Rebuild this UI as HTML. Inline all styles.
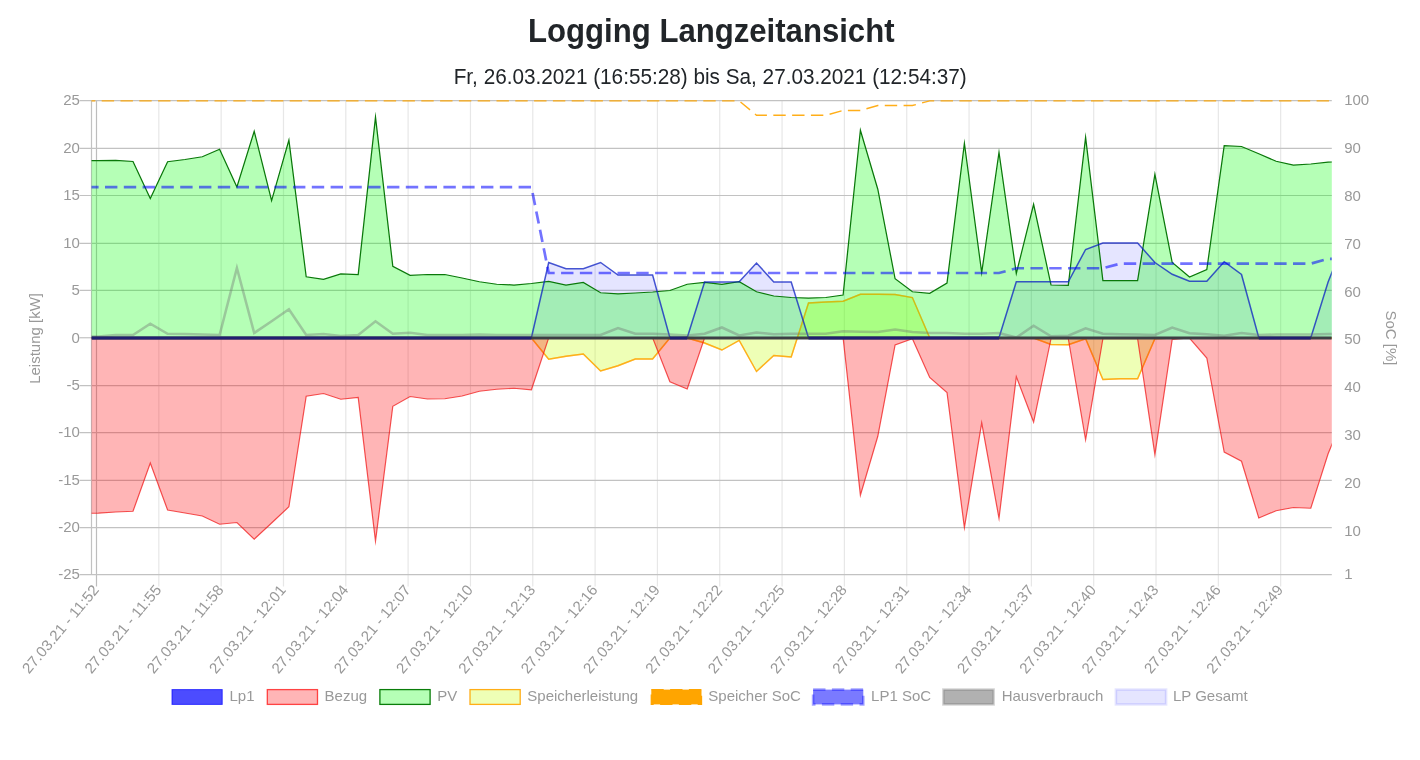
<!DOCTYPE html>
<html lang="de"><head><meta charset="utf-8"><title>Logging Langzeitansicht</title>
<style>
html,body{margin:0;padding:0;background:#fff;}
body{width:1420px;height:760px;overflow:hidden;font-family:"Liberation Sans",sans-serif;}
svg{display:block;}
.t{font-family:"Liberation Sans",sans-serif;fill:#999999;}
</style></head><body>
<svg width="1420" height="760" viewBox="0 0 1420 760">
<rect width="1420" height="760" fill="#fff"/>
<text x="711.3" y="42.2" text-anchor="middle" font-family="Liberation Sans,sans-serif" font-weight="bold" font-size="33.5" fill="#212529" textLength="366.5" lengthAdjust="spacingAndGlyphs">Logging Langzeitansicht</text>
<text x="710.2" y="84.2" text-anchor="middle" font-family="Liberation Sans,sans-serif" font-size="22.5" fill="#212529" textLength="513" lengthAdjust="spacingAndGlyphs">Fr, 26.03.2021 (16:55:28) bis Sa, 27.03.2021 (12:54:37)</text>
<g fill="none" stroke-width="1.2">
<path d="M96.50,100.5 V586.5" stroke="#bdbdbd"/>
<path d="M158.82,100.5 V586.5" stroke="#e7e7e7"/>
<path d="M221.15,100.5 V586.5" stroke="#e7e7e7"/>
<path d="M283.48,100.5 V586.5" stroke="#e7e7e7"/>
<path d="M345.80,100.5 V586.5" stroke="#e7e7e7"/>
<path d="M408.12,100.5 V586.5" stroke="#e7e7e7"/>
<path d="M470.45,100.5 V586.5" stroke="#e7e7e7"/>
<path d="M532.78,100.5 V586.5" stroke="#e7e7e7"/>
<path d="M595.10,100.5 V586.5" stroke="#e7e7e7"/>
<path d="M657.43,100.5 V586.5" stroke="#e7e7e7"/>
<path d="M719.75,100.5 V586.5" stroke="#e7e7e7"/>
<path d="M782.08,100.5 V586.5" stroke="#e7e7e7"/>
<path d="M844.40,100.5 V586.5" stroke="#e7e7e7"/>
<path d="M906.73,100.5 V586.5" stroke="#e7e7e7"/>
<path d="M969.05,100.5 V586.5" stroke="#e7e7e7"/>
<path d="M1031.38,100.5 V586.5" stroke="#e7e7e7"/>
<path d="M1093.70,100.5 V586.5" stroke="#e7e7e7"/>
<path d="M1156.03,100.5 V586.5" stroke="#e7e7e7"/>
<path d="M1218.35,100.5 V586.5" stroke="#e7e7e7"/>
<path d="M1280.67,100.5 V586.5" stroke="#e7e7e7"/>
<path d="M91.5,100.5 V574.75" stroke="#c2c2c2"/>
<path d="M79.5,100.60 H1331.8" stroke="#c2c2c2"/>
<path d="M79.5,148.40 H1331.8" stroke="#c2c2c2"/>
<path d="M79.5,195.50 H1331.8" stroke="#c2c2c2"/>
<path d="M79.5,243.40 H1331.8" stroke="#c2c2c2"/>
<path d="M79.5,290.40 H1331.8" stroke="#c2c2c2"/>
<path d="M79.5,385.60 H1331.8" stroke="#c2c2c2"/>
<path d="M79.5,432.60 H1331.8" stroke="#c2c2c2"/>
<path d="M79.5,480.30 H1331.8" stroke="#c2c2c2"/>
<path d="M79.5,527.70 H1331.8" stroke="#c2c2c2"/>
<path d="M79.5,574.70 H1331.8" stroke="#c2c2c2"/>
<path d="M79.5,337.75 H91.5" stroke="#c2c2c2"/>
</g>
<clipPath id="c"><rect x="91.5" y="99.0" width="1240.3" height="477.25"/></clipPath>
<g clip-path="url(#c)" stroke-linejoin="miter" stroke-miterlimit="10" stroke-linecap="butt">
<path d="M84.2,337.75 L98.4,337.75 L115.7,337.75 L133.0,337.75 L150.3,337.75 L167.6,337.75 L185.0,337.75 L202.3,337.75 L219.6,337.75 L236.9,337.75 L254.2,337.75 L271.6,337.75 L288.9,337.75 L306.2,337.75 L323.5,337.75 L340.8,337.75 L358.2,337.75 L375.5,337.75 L392.8,337.75 L410.1,337.75 L427.4,337.75 L444.8,337.75 L462.1,337.75 L479.4,337.75 L496.7,337.75 L514.0,337.75 L531.4,337.75 L548.7,262.50 L566.0,268.75 L583.3,268.75 L600.6,262.50 L618.0,275.00 L635.3,275.00 L652.6,275.00 L669.9,337.75 L687.2,337.75 L704.6,282.00 L721.9,282.00 L739.2,281.75 L756.5,263.00 L773.8,282.00 L791.2,282.00 L808.5,337.75 L825.8,337.75 L843.1,337.75 L860.4,337.75 L877.8,337.75 L895.1,337.75 L912.4,337.75 L929.7,337.75 L947.0,337.75 L964.4,337.75 L981.7,337.75 L999.0,337.75 L1016.3,281.75 L1033.6,281.75 L1051.0,281.75 L1068.3,281.75 L1085.6,249.50 L1102.9,243.00 L1120.2,243.00 L1137.6,243.00 L1154.9,262.50 L1172.2,274.25 L1189.5,281.25 L1206.8,281.25 L1224.2,261.75 L1241.5,274.50 L1258.8,337.75 L1276.1,337.75 L1293.4,337.75 L1310.8,337.75 L1328.1,282.00 L1345.4,238.80 L1345.4,337.75 L84.2,337.75 Z" fill="rgba(0,0,255,0.1)" stroke="none"/>
<path d="M84.2,338.00 L98.4,338.00 L115.7,338.00 L133.0,338.00 L150.3,338.00 L167.6,338.00 L185.0,338.00 L202.3,338.00 L219.6,338.00 L236.9,338.00 L254.2,338.00 L271.6,338.00 L288.9,338.00 L306.2,338.00 L323.5,338.00 L340.8,338.00 L358.2,338.00 L375.5,338.00 L392.8,338.00 L410.1,338.00 L427.4,338.00 L444.8,338.00 L462.1,338.00 L479.4,338.00 L496.7,338.00 L514.0,338.00 L531.4,338.00 L548.7,359.25 L566.0,356.25 L583.3,354.00 L600.6,371.00 L618.0,365.75 L635.3,359.00 L652.6,359.00 L669.9,338.00 L687.2,338.00 L704.6,343.00 L721.9,350.00 L739.2,340.50 L756.5,371.50 L773.8,355.50 L791.2,357.00 L808.5,303.00 L825.8,302.00 L843.1,301.25 L860.4,294.25 L877.8,294.25 L895.1,294.50 L912.4,297.50 L929.7,337.75 L947.0,338.00 L964.4,338.00 L981.7,338.00 L999.0,338.00 L1016.3,338.00 L1033.6,338.00 L1051.0,344.50 L1068.3,344.75 L1085.6,338.75 L1102.9,379.50 L1120.2,378.75 L1137.6,378.75 L1154.9,338.75 L1172.2,338.00 L1189.5,338.00 L1206.8,338.00 L1224.2,338.00 L1241.5,338.00 L1258.8,338.00 L1276.1,338.00 L1293.4,338.00 L1310.8,338.00 L1328.1,338.00 L1345.4,338.00 L1345.4,337.75 L84.2,337.75 Z" fill="rgba(200,255,13,0.3)" stroke="none"/>
<path d="M84.2,338.00 L98.4,338.00 L115.7,338.00 L133.0,338.00 L150.3,338.00 L167.6,338.00 L185.0,338.00 L202.3,338.00 L219.6,338.00 L236.9,338.00 L254.2,338.00 L271.6,338.00 L288.9,338.00 L306.2,338.00 L323.5,338.00 L340.8,338.00 L358.2,338.00 L375.5,338.00 L392.8,338.00 L410.1,338.00 L427.4,338.00 L444.8,338.00 L462.1,338.00 L479.4,338.00 L496.7,338.00 L514.0,338.00 L531.4,338.00 L548.7,359.25 L566.0,356.25 L583.3,354.00 L600.6,371.00 L618.0,365.75 L635.3,359.00 L652.6,359.00 L669.9,338.00 L687.2,338.00 L704.6,343.00 L721.9,350.00 L739.2,340.50 L756.5,371.50 L773.8,355.50 L791.2,357.00 L808.5,303.00 L825.8,302.00 L843.1,301.25 L860.4,294.25 L877.8,294.25 L895.1,294.50 L912.4,297.50 L929.7,337.75 L947.0,338.00 L964.4,338.00 L981.7,338.00 L999.0,338.00 L1016.3,338.00 L1033.6,338.00 L1051.0,344.50 L1068.3,344.75 L1085.6,338.75 L1102.9,379.50 L1120.2,378.75 L1137.6,378.75 L1154.9,338.75 L1172.2,338.00 L1189.5,338.00 L1206.8,338.00 L1224.2,338.00 L1241.5,338.00 L1258.8,338.00 L1276.1,338.00 L1293.4,338.00 L1310.8,338.00 L1328.1,338.00 L1345.4,338.00" fill="none" stroke="rgba(255,165,0,0.8)" stroke-width="1.4"/>
<path d="M84.2,160.70 L98.4,160.60 L115.7,160.30 L133.0,161.50 L150.3,198.50 L167.6,161.75 L185.0,159.50 L202.3,156.75 L219.6,149.25 L236.9,187.00 L254.2,131.27 L271.6,200.61 L288.9,140.10 L306.2,276.75 L323.5,279.25 L340.8,274.00 L358.2,274.50 L375.5,117.13 L392.8,266.25 L410.1,275.40 L427.4,274.50 L444.8,274.50 L462.1,278.00 L479.4,281.75 L496.7,284.25 L514.0,285.00 L531.4,283.50 L548.7,281.50 L566.0,285.00 L583.3,282.50 L600.6,292.75 L618.0,293.75 L635.3,293.00 L652.6,292.00 L669.9,290.50 L687.2,284.25 L704.6,282.50 L721.9,284.25 L739.2,281.75 L756.5,291.75 L773.8,296.00 L791.2,297.50 L808.5,298.00 L825.8,297.50 L843.1,295.00 L860.4,130.22 L877.8,189.25 L895.1,278.75 L912.4,291.75 L929.7,293.25 L947.0,283.00 L964.4,143.47 L981.7,272.59 L999.0,152.49 L1016.3,273.48 L1033.6,204.25 L1051.0,285.00 L1068.3,285.25 L1085.6,137.35 L1102.9,280.50 L1120.2,280.50 L1137.6,280.50 L1154.9,174.28 L1172.2,262.50 L1189.5,277.00 L1206.8,269.50 L1224.2,145.75 L1241.5,146.50 L1258.8,153.75 L1276.1,161.25 L1293.4,165.00 L1310.8,164.00 L1328.1,162.20 L1345.4,160.50 L1345.4,337.75 L84.2,337.75 Z" fill="rgba(10,255,13,0.3)" stroke="none"/>
<path d="M84.2,160.70 L98.4,160.60 L115.7,160.30 L133.0,161.50 L150.3,198.50 L167.6,161.75 L185.0,159.50 L202.3,156.75 L219.6,149.25 L236.9,187.00 L254.2,131.27 L271.6,200.61 L288.9,140.10 L306.2,276.75 L323.5,279.25 L340.8,274.00 L358.2,274.50 L375.5,117.13 L392.8,266.25 L410.1,275.40 L427.4,274.50 L444.8,274.50 L462.1,278.00 L479.4,281.75 L496.7,284.25 L514.0,285.00 L531.4,283.50 L548.7,281.50 L566.0,285.00 L583.3,282.50 L600.6,292.75 L618.0,293.75 L635.3,293.00 L652.6,292.00 L669.9,290.50 L687.2,284.25 L704.6,282.50 L721.9,284.25 L739.2,281.75 L756.5,291.75 L773.8,296.00 L791.2,297.50 L808.5,298.00 L825.8,297.50 L843.1,295.00 L860.4,130.22 L877.8,189.25 L895.1,278.75 L912.4,291.75 L929.7,293.25 L947.0,283.00 L964.4,143.47 L981.7,272.59 L999.0,152.49 L1016.3,273.48 L1033.6,204.25 L1051.0,285.00 L1068.3,285.25 L1085.6,137.35 L1102.9,280.50 L1120.2,280.50 L1137.6,280.50 L1154.9,174.28 L1172.2,262.50 L1189.5,277.00 L1206.8,269.50 L1224.2,145.75 L1241.5,146.50 L1258.8,153.75 L1276.1,161.25 L1293.4,165.00 L1310.8,164.00 L1328.1,162.20 L1345.4,160.50" fill="none" stroke="#0a780a" stroke-width="1.25"/>
<path d="M84.2,338.00 L98.4,338.00 L115.7,338.00 L133.0,338.00 L150.3,338.00 L167.6,338.00 L185.0,338.00 L202.3,338.00 L219.6,338.00 L236.9,338.00 L254.2,338.00 L271.6,338.00 L288.9,338.00 L306.2,338.00 L323.5,338.00 L340.8,338.00 L358.2,338.00 L375.5,338.00 L392.8,338.00 L410.1,338.00 L427.4,338.00 L444.8,338.00 L462.1,338.00 L479.4,338.00 L496.7,338.00 L514.0,338.00 L531.4,338.00 L548.7,359.25 L566.0,356.25 L583.3,354.00 L600.6,371.00 L618.0,365.75 L635.3,359.00 L652.6,359.00 L669.9,338.00 L687.2,338.00 L704.6,343.00 L721.9,350.00 L739.2,340.50 L756.5,371.50 L773.8,355.50 L791.2,357.00 L808.5,303.00 L825.8,302.00 L843.1,301.25 L860.4,294.25 L877.8,294.25 L895.1,294.50 L912.4,297.50 L929.7,337.75 L947.0,338.00 L964.4,338.00 L981.7,338.00 L999.0,338.00 L1016.3,338.00 L1033.6,338.00 L1051.0,344.50 L1068.3,344.75 L1085.6,338.75 L1102.9,379.50 L1120.2,378.75 L1137.6,378.75 L1154.9,338.75 L1172.2,338.00 L1189.5,338.00 L1206.8,338.00 L1224.2,338.00 L1241.5,338.00 L1258.8,338.00 L1276.1,338.00 L1293.4,338.00 L1310.8,338.00 L1328.1,338.00 L1345.4,338.00" fill="none" stroke="rgba(255,165,0,0.4)" stroke-width="1.4"/>
<path d="M84.2,513.30 L98.4,513.20 L115.7,512.00 L133.0,511.25 L150.3,463.00 L167.6,510.00 L185.0,513.00 L202.3,516.00 L219.6,524.25 L236.9,522.50 L254.2,539.25 L271.6,523.00 L288.9,506.75 L306.2,396.25 L323.5,393.50 L340.8,399.25 L358.2,397.50 L375.5,541.06 L392.8,406.25 L410.1,396.50 L427.4,399.00 L444.8,398.75 L462.1,396.00 L479.4,391.25 L496.7,389.25 L514.0,388.25 L531.4,389.75 L548.7,337.75 L566.0,337.75 L583.3,337.75 L600.6,337.75 L618.0,337.75 L635.3,337.75 L652.6,337.75 L669.9,381.75 L687.2,389.00 L704.6,337.75 L721.9,337.75 L739.2,337.75 L756.5,337.75 L773.8,337.75 L791.2,337.75 L808.5,337.75 L825.8,337.75 L843.1,337.75 L860.4,495.15 L877.8,436.25 L895.1,345.00 L912.4,338.75 L929.7,377.50 L947.0,392.50 L964.4,527.68 L981.7,422.82 L999.0,518.34 L1016.3,376.65 L1033.6,422.08 L1051.0,338.75 L1068.3,338.75 L1085.6,439.77 L1102.9,338.75 L1120.2,338.50 L1137.6,338.75 L1154.9,454.62 L1172.2,339.50 L1189.5,338.00 L1206.8,358.00 L1224.2,452.00 L1241.5,461.25 L1258.8,518.00 L1276.1,510.75 L1293.4,507.50 L1310.8,508.25 L1328.1,453.75 L1345.4,412.00 L1345.4,337.75 L84.2,337.75 Z" fill="rgba(255,10,13,0.3)" stroke="none"/>
<path d="M84.2,513.30 L98.4,513.20 L115.7,512.00 L133.0,511.25 L150.3,463.00 L167.6,510.00 L185.0,513.00 L202.3,516.00 L219.6,524.25 L236.9,522.50 L254.2,539.25 L271.6,523.00 L288.9,506.75 L306.2,396.25 L323.5,393.50 L340.8,399.25 L358.2,397.50 L375.5,541.06 L392.8,406.25 L410.1,396.50 L427.4,399.00 L444.8,398.75 L462.1,396.00 L479.4,391.25 L496.7,389.25 L514.0,388.25 L531.4,389.75 L548.7,337.75 L566.0,337.75 L583.3,337.75 L600.6,337.75 L618.0,337.75 L635.3,337.75 L652.6,337.75 L669.9,381.75 L687.2,389.00 L704.6,337.75 L721.9,337.75 L739.2,337.75 L756.5,337.75 L773.8,337.75 L791.2,337.75 L808.5,337.75 L825.8,337.75 L843.1,337.75 L860.4,495.15 L877.8,436.25 L895.1,345.00 L912.4,338.75 L929.7,377.50 L947.0,392.50 L964.4,527.68 L981.7,422.82 L999.0,518.34 L1016.3,376.65 L1033.6,422.08 L1051.0,338.75 L1068.3,338.75 L1085.6,439.77 L1102.9,338.75 L1120.2,338.50 L1137.6,338.75 L1154.9,454.62 L1172.2,339.50 L1189.5,338.00 L1206.8,358.00 L1224.2,452.00 L1241.5,461.25 L1258.8,518.00 L1276.1,510.75 L1293.4,507.50 L1310.8,508.25 L1328.1,453.75 L1345.4,412.00" fill="none" stroke="rgba(240,20,20,0.72)" stroke-width="1.2"/>
<path d="M84.2,337.75 L98.4,337.75 L115.7,337.75 L133.0,337.75 L150.3,337.75 L167.6,337.75 L185.0,337.75 L202.3,337.75 L219.6,337.75 L236.9,337.75 L254.2,337.75 L271.6,337.75 L288.9,337.75 L306.2,337.75 L323.5,337.75 L340.8,337.75 L358.2,337.75 L375.5,337.75 L392.8,337.75 L410.1,337.75 L427.4,337.75 L444.8,337.75 L462.1,337.75 L479.4,337.75 L496.7,337.75 L514.0,337.75 L531.4,337.75 L548.7,262.50 L566.0,268.75 L583.3,268.75 L600.6,262.50 L618.0,275.00 L635.3,275.00 L652.6,275.00 L669.9,337.75 L687.2,337.75 L704.6,282.00 L721.9,282.00 L739.2,281.75 L756.5,263.00 L773.8,282.00 L791.2,282.00 L808.5,337.75 L825.8,337.75 L843.1,337.75 L860.4,337.75 L877.8,337.75 L895.1,337.75 L912.4,337.75 L929.7,337.75 L947.0,337.75 L964.4,337.75 L981.7,337.75 L999.0,337.75 L1016.3,281.75 L1033.6,281.75 L1051.0,281.75 L1068.3,281.75 L1085.6,249.50 L1102.9,243.00 L1120.2,243.00 L1137.6,243.00 L1154.9,262.50 L1172.2,274.25 L1189.5,281.25 L1206.8,281.25 L1224.2,261.75 L1241.5,274.50 L1258.8,337.75 L1276.1,337.75 L1293.4,337.75 L1310.8,337.75 L1328.1,282.00 L1345.4,238.80" fill="none" stroke="rgba(10,30,195,0.75)" stroke-width="1.5"/>
<path d="M84.2,100.90 L98.4,100.90 L115.7,100.90 L133.0,100.90 L150.3,100.90 L167.6,100.90 L185.0,100.90 L202.3,100.90 L219.6,100.90 L236.9,100.90 L254.2,100.90 L271.6,100.90 L288.9,100.90 L306.2,100.90 L323.5,100.90 L340.8,100.90 L358.2,100.90 L375.5,100.90 L392.8,100.90 L410.1,100.90 L427.4,100.90 L444.8,100.90 L462.1,100.90 L479.4,100.90 L496.7,100.90 L514.0,100.90 L531.4,100.90 L548.7,100.90 L566.0,100.90 L583.3,100.90 L600.6,100.90 L618.0,100.90 L635.3,100.90 L652.6,100.90 L669.9,100.90 L687.2,100.90 L704.6,100.90 L721.9,100.90 L739.2,100.90 L756.5,115.25 L773.8,115.25 L791.2,115.25 L808.5,115.25 L825.8,115.25 L843.1,110.50 L860.4,110.50 L877.8,105.50 L895.1,105.50 L912.4,105.50 L929.7,100.90 L947.0,100.90 L964.4,100.90 L981.7,100.90 L999.0,100.90 L1016.3,100.90 L1033.6,100.90 L1051.0,100.90 L1068.3,100.90 L1085.6,100.90 L1102.9,100.90 L1120.2,100.90 L1137.6,100.90 L1154.9,100.90 L1172.2,100.90 L1189.5,100.90 L1206.8,100.90 L1224.2,100.90 L1241.5,100.90 L1258.8,100.90 L1276.1,100.90 L1293.4,100.90 L1310.8,100.90 L1328.1,100.90 L1345.4,100.90" fill="none" stroke="rgba(255,165,0,0.9)" stroke-width="1.4" stroke-dasharray="12.4 6.4" stroke-dashoffset="1.3"/>
<path d="M84.2,187.10 L98.4,187.10 L115.7,187.10 L133.0,187.10 L150.3,187.10 L167.6,187.10 L185.0,187.10 L202.3,187.10 L219.6,187.10 L236.9,187.10 L254.2,187.10 L271.6,187.10 L288.9,187.10 L306.2,187.10 L323.5,187.10 L340.8,187.10 L358.2,187.10 L375.5,187.10 L392.8,187.10 L410.1,187.10 L427.4,187.10 L444.8,187.10 L462.1,187.10 L479.4,187.10 L496.7,187.10 L514.0,187.10 L531.4,187.10 L548.7,273.00 L566.0,273.00 L583.3,273.00 L600.6,273.00 L618.0,273.00 L635.3,273.00 L652.6,273.00 L669.9,273.00 L687.2,273.00 L704.6,273.00 L721.9,273.00 L739.2,273.00 L756.5,273.00 L773.8,273.00 L791.2,273.00 L808.5,273.00 L825.8,273.00 L843.1,273.00 L860.4,273.00 L877.8,273.00 L895.1,273.00 L912.4,273.00 L929.7,273.00 L947.0,273.00 L964.4,273.00 L981.7,273.00 L999.0,273.00 L1016.3,268.25 L1033.6,268.25 L1051.0,268.25 L1068.3,268.25 L1085.6,268.25 L1102.9,268.25 L1120.2,263.60 L1137.6,263.60 L1154.9,263.60 L1172.2,263.60 L1189.5,263.60 L1206.8,263.60 L1224.2,263.60 L1241.5,263.60 L1258.8,263.60 L1276.1,263.60 L1293.4,263.60 L1310.8,263.60 L1328.1,258.80 L1345.4,258.80" fill="none" stroke="rgba(0,0,255,0.55)" stroke-width="2.7" stroke-dasharray="12.4 6.4" stroke-dashoffset="-2"/>
<path d="M84.2,336.75 L98.4,336.50 L115.7,335.00 L133.0,335.00 L150.3,323.75 L167.6,333.75 L185.0,334.00 L202.3,334.50 L219.6,335.00 L236.9,268.00 L254.2,333.00 L271.6,321.25 L288.9,309.25 L306.2,335.00 L323.5,334.00 L340.8,336.00 L358.2,335.00 L375.5,321.25 L392.8,333.75 L410.1,332.75 L427.4,335.00 L444.8,335.00 L462.1,335.00 L479.4,334.50 L496.7,335.00 L514.0,335.00 L531.4,335.00 L548.7,335.00 L566.0,335.00 L583.3,335.00 L600.6,335.00 L618.0,328.00 L635.3,333.75 L652.6,333.75 L669.9,334.50 L687.2,335.50 L704.6,333.75 L721.9,327.50 L739.2,335.50 L756.5,332.50 L773.8,334.25 L791.2,333.75 L808.5,333.75 L825.8,333.75 L843.1,331.25 L860.4,331.75 L877.8,332.00 L895.1,329.50 L912.4,332.00 L929.7,333.00 L947.0,333.00 L964.4,333.75 L981.7,333.75 L999.0,333.00 L1016.3,337.50 L1033.6,325.75 L1051.0,336.25 L1068.3,335.75 L1085.6,328.25 L1102.9,333.75 L1120.2,334.25 L1137.6,334.50 L1154.9,335.00 L1172.2,327.50 L1189.5,333.25 L1206.8,334.25 L1224.2,335.75 L1241.5,333.00 L1258.8,335.00 L1276.1,334.50 L1293.4,334.50 L1310.8,334.50 L1328.1,334.00 L1345.4,334.00" fill="none" stroke="rgba(110,110,110,0.38)" stroke-width="2.56"/>
<path d="M91.5,338.0 H1331.8" stroke="rgb(60,63,68)" stroke-width="3.0" fill="none"/>
<path d="M91.5,338.0 H531.4" stroke="rgb(32,32,112)" stroke-width="3.0" fill="none"/>
<path d="M669.9,338.0 H687.2" stroke="rgb(32,32,112)" stroke-width="3.0" fill="none"/>
<path d="M808.5,338.0 H999.0" stroke="rgb(32,32,112)" stroke-width="3.0" fill="none"/>
<path d="M1258.8,338.0 H1310.8" stroke="rgb(32,32,112)" stroke-width="3.0" fill="none"/>
</g>
<g class="t" font-size="15" text-anchor="end">
<text x="79.9" y="105.2">25</text>
<text x="79.9" y="153.0">20</text>
<text x="79.9" y="200.1">15</text>
<text x="79.9" y="248.0">10</text>
<text x="79.9" y="295.0">5</text>
<text x="79.9" y="342.6">0</text>
<text x="79.9" y="390.2">-5</text>
<text x="79.9" y="437.2">-10</text>
<text x="79.9" y="484.9">-15</text>
<text x="79.9" y="532.3">-20</text>
<text x="79.9" y="579.3">-25</text>
</g>
<g class="t" font-size="15" text-anchor="start">
<text x="1344.2" y="105.0">100</text>
<text x="1344.2" y="152.9">90</text>
<text x="1344.2" y="200.7">80</text>
<text x="1344.2" y="248.6">70</text>
<text x="1344.2" y="296.5">60</text>
<text x="1344.2" y="344.4">50</text>
<text x="1344.2" y="392.2">40</text>
<text x="1344.2" y="440.1">30</text>
<text x="1344.2" y="488.0">20</text>
<text x="1344.2" y="535.8">10</text>
<text x="1344.2" y="578.9">1</text>
</g>
<text class="t" font-size="15" text-anchor="middle" transform="translate(40.4,338.4) rotate(-90)">Leistung [kW]</text>
<text class="t" font-size="15" text-anchor="middle" transform="translate(1385.6,338) rotate(90)">SoC [%]</text>
<g class="t" font-size="15" text-anchor="end">
<text transform="translate(95.80,587) rotate(-50)" dy="5.2" textLength="110" lengthAdjust="spacingAndGlyphs">27.03.21 - 11:52</text>
<text transform="translate(158.12,587) rotate(-50)" dy="5.2" textLength="110" lengthAdjust="spacingAndGlyphs">27.03.21 - 11:55</text>
<text transform="translate(220.45,587) rotate(-50)" dy="5.2" textLength="110" lengthAdjust="spacingAndGlyphs">27.03.21 - 11:58</text>
<text transform="translate(282.78,587) rotate(-50)" dy="5.2" textLength="110" lengthAdjust="spacingAndGlyphs">27.03.21 - 12:01</text>
<text transform="translate(345.10,587) rotate(-50)" dy="5.2" textLength="110" lengthAdjust="spacingAndGlyphs">27.03.21 - 12:04</text>
<text transform="translate(407.43,587) rotate(-50)" dy="5.2" textLength="110" lengthAdjust="spacingAndGlyphs">27.03.21 - 12:07</text>
<text transform="translate(469.75,587) rotate(-50)" dy="5.2" textLength="110" lengthAdjust="spacingAndGlyphs">27.03.21 - 12:10</text>
<text transform="translate(532.08,587) rotate(-50)" dy="5.2" textLength="110" lengthAdjust="spacingAndGlyphs">27.03.21 - 12:13</text>
<text transform="translate(594.40,587) rotate(-50)" dy="5.2" textLength="110" lengthAdjust="spacingAndGlyphs">27.03.21 - 12:16</text>
<text transform="translate(656.73,587) rotate(-50)" dy="5.2" textLength="110" lengthAdjust="spacingAndGlyphs">27.03.21 - 12:19</text>
<text transform="translate(719.05,587) rotate(-50)" dy="5.2" textLength="110" lengthAdjust="spacingAndGlyphs">27.03.21 - 12:22</text>
<text transform="translate(781.38,587) rotate(-50)" dy="5.2" textLength="110" lengthAdjust="spacingAndGlyphs">27.03.21 - 12:25</text>
<text transform="translate(843.70,587) rotate(-50)" dy="5.2" textLength="110" lengthAdjust="spacingAndGlyphs">27.03.21 - 12:28</text>
<text transform="translate(906.02,587) rotate(-50)" dy="5.2" textLength="110" lengthAdjust="spacingAndGlyphs">27.03.21 - 12:31</text>
<text transform="translate(968.35,587) rotate(-50)" dy="5.2" textLength="110" lengthAdjust="spacingAndGlyphs">27.03.21 - 12:34</text>
<text transform="translate(1030.67,587) rotate(-50)" dy="5.2" textLength="110" lengthAdjust="spacingAndGlyphs">27.03.21 - 12:37</text>
<text transform="translate(1093.00,587) rotate(-50)" dy="5.2" textLength="110" lengthAdjust="spacingAndGlyphs">27.03.21 - 12:40</text>
<text transform="translate(1155.33,587) rotate(-50)" dy="5.2" textLength="110" lengthAdjust="spacingAndGlyphs">27.03.21 - 12:43</text>
<text transform="translate(1217.65,587) rotate(-50)" dy="5.2" textLength="110" lengthAdjust="spacingAndGlyphs">27.03.21 - 12:46</text>
<text transform="translate(1279.97,587) rotate(-50)" dy="5.2" textLength="110" lengthAdjust="spacingAndGlyphs">27.03.21 - 12:49</text>
</g>
<g class="t" font-size="15">
<rect x="172.0" y="689.6" width="50.2" height="14.8" fill="rgba(0,0,255,0.7)" stroke="rgba(0,0,255,0.7)" stroke-width="1.0"/>
<text x="229.5" y="700.8">Lp1</text>
<rect x="267.3" y="689.6" width="50.2" height="14.8" fill="rgba(255,10,13,0.3)" stroke="rgba(255,0,0,0.7)" stroke-width="1.3"/>
<text x="324.6" y="700.8">Bezug</text>
<rect x="379.9" y="689.6" width="50.2" height="14.8" fill="rgba(10,255,13,0.3)" stroke="#0a7d0a" stroke-width="1.3"/>
<text x="437.3" y="700.8">PV</text>
<rect x="470.0" y="689.6" width="50.2" height="14.8" fill="rgba(200,255,13,0.3)" stroke="rgba(255,165,0,0.9)" stroke-width="1.3"/>
<text x="527.3" y="700.8">Speicherleistung</text>
<rect x="651.3" y="689.6" width="50.2" height="14.8" fill="rgb(255,165,0)" stroke="rgb(255,165,0)" stroke-width="1.3" stroke-dasharray="12.4 6.4"/>
<text x="708.3" y="700.8">Speicher SoC</text>
<rect x="813.1" y="689.6" width="50.2" height="14.8" fill="rgba(0,0,255,0.52)" stroke="rgba(0,0,255,0.35)" stroke-width="2.6" stroke-dasharray="12.4 6.4"/>
<text x="871.1" y="700.8">LP1 SoC</text>
<rect x="943.4" y="689.6" width="50.2" height="14.8" fill="rgba(100,100,100,0.5)" stroke="rgba(100,100,100,0.28)" stroke-width="2.6"/>
<text x="1001.7" y="700.8">Hausverbrauch</text>
<rect x="1115.9" y="689.6" width="50.2" height="14.8" fill="rgba(0,0,255,0.1)" stroke="rgba(0,0,255,0.1)" stroke-width="2.6"/>
<text x="1172.9" y="700.8">LP Gesamt</text>
</g>
</svg>
</body></html>
